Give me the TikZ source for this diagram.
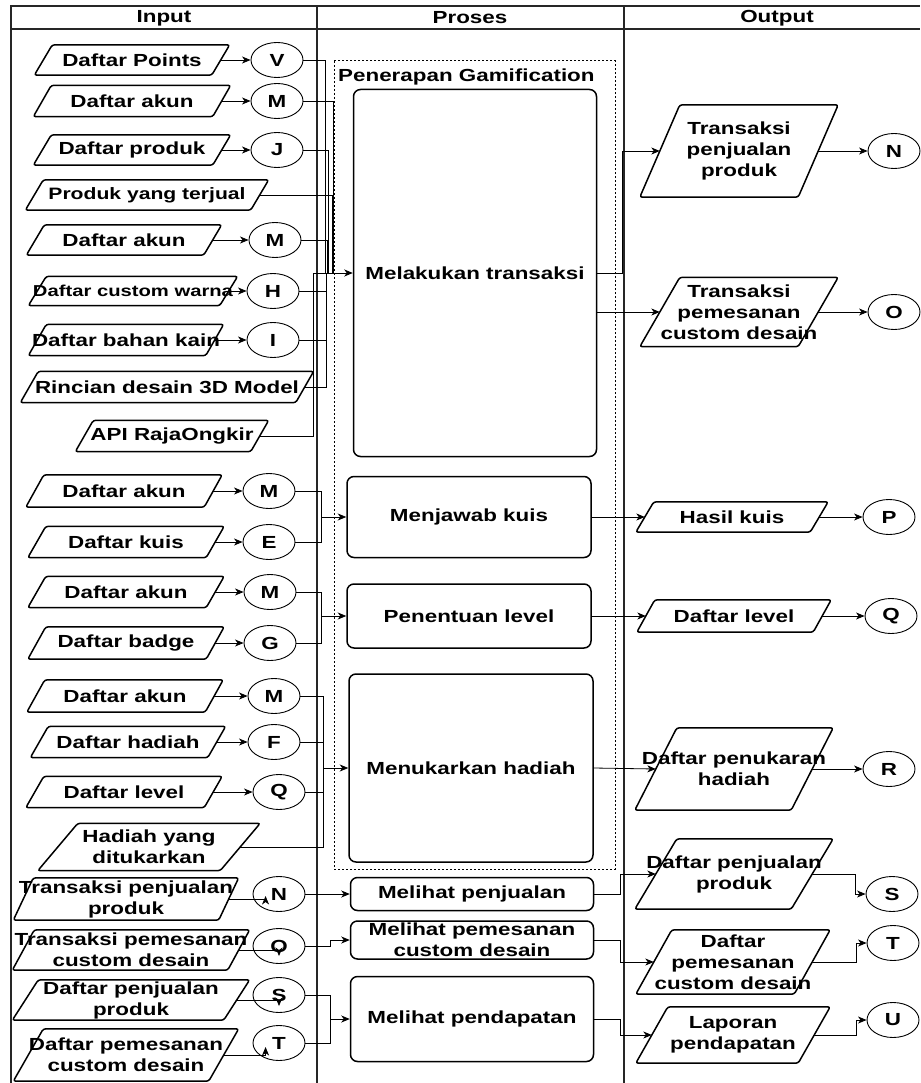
\documentclass[tikz,border=0pt]{standalone}
\usepackage{fontspec}
\setmainfont{Liberation Sans}[FakeStretch=1.28]
\usetikzlibrary{shapes.geometric,arrows.meta,calc}
\newcommand\paral[2]{\draw[iop] ([xshift=-#2pt]#1.south west) -- ([xshift=#2pt]#1.north west) -- ([xshift=#2pt]#1.north east) -- ([xshift=-#2pt]#1.south east) -- cycle;}
\begin{document}
\begin{tikzpicture}[x=1pt,y=-1pt,
  txt/.style={font=\bfseries\fontsize{17.5}{21}\selectfont, align=center, inner sep=0pt},
  stxt/.style={font=\bfseries\fontsize{15.8}{19}\selectfont, align=center, inner sep=0pt},
  mtxt/.style={font=\bfseries\fontsize{16.5}{20}\selectfont, align=center, inner sep=0pt},
  pnode/.style={draw=none, inner sep=0pt},
  iop/.style={line width=1.5pt, rounded corners=2.5pt},
  circ/.style={ellipse, draw, line width=0.9pt, minimum width=52pt, minimum height=35pt,
    inner sep=0pt, font=\bfseries\fontsize{17.5}{21}\selectfont},
  proc/.style={draw, line width=1.5pt, rounded corners=7pt, inner sep=0pt, align=center,
    font=\bfseries\fontsize{17.5}{21}\selectfont},
  con/.style={line width=0.8pt},
  arr/.style={con, -{Stealth[length=8.5pt,width=7pt,inset=2.5pt]}},
  tbl/.style={line width=1.2pt, black!85},
  hdr/.style={font=\bfseries\fontsize{17.5}{21}\selectfont, inner sep=0pt}
]
\useasboundingbox (0,0) rectangle (920,1083);
\fill[white] (0,0) rectangle (920,1083);

% table
\draw[tbl] (10,6) -- (920,6);
\draw[tbl] (10,29) -- (920,29);
\draw[tbl] (11,6) -- (11,1083);
\draw[tbl] (317,6) -- (317,1083);
\draw[tbl] (624,6) -- (624,1083);
\node[hdr] (hIn) at (164,18) {Input};
\node[hdr] (hPr) at (470,18) {Proses};
\node[hdr] (hOut) at (777,18) {Output};

% group
\draw[line width=1pt, dash pattern=on 2pt off 2pt] (334,61) rectangle (615,869);
\node[txt, anchor=west] (pg) at (338,77) {Penerapan Gamification};

% processes
\node[proc, minimum width=243pt, minimum height=367pt] (mt) at (475,273) {Melakukan transaksi};
\node[proc, minimum width=244pt, minimum height=81pt] (mk) at (469,517) {Menjawab kuis};
\node[proc, minimum width=244pt, minimum height=64pt] (pl) at (469,616) {Penentuan level};
\node[proc, minimum width=244pt, minimum height=188pt] (mh) at (471,768) {Menukarkan hadiah};
\node[proc, minimum width=243pt, minimum height=33pt] (mp) at (472,894) {Melihat penjualan};
\node[proc, minimum width=243pt, minimum height=38pt] (mpc) at (472,940) {Melihat pemesanan\\custom desain};
\node[proc, minimum width=243pt, minimum height=85pt] (mpd) at (472,1019) {Melihat pendapatan};

% inputs for Melakukan transaksi
\node[pnode, minimum width=177pt, minimum height=30pt, label={[txt]center:Daftar Points}] (i1) at (132,60) {};
\paral{i1}{9}
\node[circ] (cV) at (277,60) {V};
\node[pnode, minimum width=179pt, minimum height=31pt, label={[txt]center:Daftar akun}] (i2) at (132,101) {};
\paral{i2}{9}
\node[circ] (cM1) at (277,101) {M};
\node[pnode, minimum width=179pt, minimum height=30pt, label={[txt]center:Daftar produk}] (i3) at (132,150) {};
\paral{i3}{9}
\node[circ] (cJ) at (277,150) {J};
\node[pnode, minimum width=225pt, minimum height=30pt, label={[mtxt]center:Produk yang terjual}] (i4) at (147,195) {};
\paral{i4}{9}
\node[pnode, minimum width=177pt, minimum height=30pt, label={[txt]center:Daftar akun}] (i5) at (124,240) {};
\paral{i5}{9}
\node[circ] (cM2) at (275,240) {M};
\node[pnode, minimum width=191pt, minimum height=29pt, label={[stxt]center:Daftar custom warna}] (i6) at (133,291) {};
\paral{i6}{9}
\node[circ] (cH) at (273,291) {H};
\node[pnode, minimum width=177pt, minimum height=31pt, label={[txt]center:Daftar bahan kain}] (i7) at (126,340) {};
\paral{i7}{9}
\node[circ] (cI) at (273,340) {I};
\node[pnode, minimum width=275pt, minimum height=31pt, label={[txt]center:Rincian desain 3D Model}] (i8) at (167,387) {};
\paral{i8}{9}
\node[pnode, minimum width=175pt, minimum height=31pt, label={[txt]center:API RajaOngkir}] (i9) at (172,436) {};
\paral{i9}{9}

\draw[arr] (i1.east) -- (cV.west);
\draw[arr] (i2.east) -- (cM1.west);
\draw[arr] (i3.east) -- (cJ.west);
\draw[arr] (i5.east) -- (cM2.west);
\draw[arr] (i6.east) -- (cH.west);
\draw[arr] (i7.east) -- (cI.west);

\coordinate (jmt) at (313,273);
\coordinate (jV) at (325,273);
\coordinate (jM1) at (333,273);
\coordinate (jJ) at (328,273);
\coordinate (jP) at (332,273);
\coordinate (jM2) at (327,273);
\coordinate (jH) at (326,273);
\draw[con] (cV.east) -| (jV);
\draw[con] (cM1.east) -| (jM1);
\draw[con] (cJ.east) -| (jJ);
\draw[con] (i4.east) -| (jP);
\draw[con] (cM2.east) -| (jM2);
\draw[con] (cH.east) -| (jH);
\draw[con] (cI.east) -| (jH);
\draw[con] (i8.east) -| (jH);
\draw[con] (i9.east) -| (jmt);
\draw[arr] (jmt) -- (mt.west);

% outputs of Melakukan transaksi
\node[pnode, minimum width=158pt, minimum height=92pt, label={[txt]center:{Transaksi\\penjualan\\produk}}] (tpp) at (739,151) {};
\paral{tpp}{20}
\node[circ] (cN) at (894,151) {N};
\node[pnode, minimum width=158pt, minimum height=69pt, label={[txt]center:{Transaksi\\pemesanan\\custom desain}}] (tpc) at (739,312) {};
\paral{tpc}{20}
\node[circ] (cO) at (894,312) {O};
\coordinate (jo1) at (622,273);
\draw[arr] (mt.east) -- (jo1) |- (tpp.west);
\draw[arr] (mt.east |- tpc.west) -- (tpc.west);
\draw[arr] (tpp.east) -- (cN.west);
\draw[arr] (tpc.east) -- (cO.west);

% Menjawab kuis
\node[pnode, minimum width=178pt, minimum height=32pt, label={[txt]center:Daftar akun}] (m1) at (124,491) {};
\paral{m1}{9}
\node[circ] (cM3) at (269,491) {M};
\node[pnode, minimum width=178pt, minimum height=31pt, label={[txt]center:Daftar kuis}] (m2) at (126,542) {};
\paral{m2}{9}
\node[circ] (cE) at (269,542) {E};
\draw[arr] (m1.east) -- (cM3.west);
\draw[arr] (m2.east) -- (cE.west);
\coordinate (jmk) at (321,517);
\draw[con] (cM3.east) -| (jmk);
\draw[con] (cE.east) -| (jmk);
\draw[arr] (jmk) -- (mk.west);
\node[pnode, minimum width=174pt, minimum height=30pt, label={[txt]center:Hasil kuis}] (hk) at (732,517) {};
\paral{hk}{9}
\node[circ] (cP) at (889,517) {P};
\draw[arr] (mk.east) -- (hk.west);
\draw[arr] (hk.east) -- (cP.west);

% Penentuan level
\node[pnode, minimum width=178pt, minimum height=31pt, label={[txt]center:Daftar akun}] (m3) at (126,592) {};
\paral{m3}{9}
\node[circ] (cM4) at (270,592) {M};
\node[pnode, minimum width=178pt, minimum height=32pt, label={[txt]center:Daftar badge}] (m4) at (126,643) {};
\paral{m4}{9}
\node[circ] (cG) at (270,643) {G};
\draw[arr] (m3.east) -- (cM4.west);
\draw[arr] (m4.east) -- (cG.west);
\coordinate (jpl) at (321,616);
\draw[con] (cM4.east) -| (jpl);
\draw[con] (cG.east) -| (jpl);
\draw[arr] (jpl) -- (pl.west);
\node[pnode, minimum width=176pt, minimum height=32pt, label={[txt]center:Daftar level}] (dl) at (734,616) {};
\paral{dl}{9}
\node[circ] (cQ2) at (891,616) {Q};
\draw[arr] (pl.east) -- (dl.west);
\draw[arr] (dl.east) -- (cQ2.west);

% Menukarkan hadiah
\node[pnode, minimum width=178pt, minimum height=32pt, label={[txt]center:Daftar akun}] (m5) at (125,696) {};
\paral{m5}{9}
\node[circ] (cM5) at (274,696) {M};
\node[pnode, minimum width=177pt, minimum height=31pt, label={[txt]center:Daftar hadiah}] (m6) at (128,742) {};
\paral{m6}{9}
\node[circ] (cF) at (274,742) {F};
\node[pnode, minimum width=178pt, minimum height=31pt, label={[txt]center:Daftar level}] (m7) at (124,792) {};
\paral{m7}{9}
\node[circ] (cQ) at (279,792) {Q};
\node[pnode, minimum width=182pt, minimum height=47pt, label={[txt]center:{Hadiah yang\\ditukarkan}}] (m8) at (149,847) {};
\paral{m8}{20}
\draw[arr] (m5.east) -- (cM5.west);
\draw[arr] (m6.east) -- (cF.west);
\draw[arr] (m7.east) -- (cQ.west);
\coordinate (jmh) at (323,768);
\draw[con] (cM5.east) -| (jmh);
\draw[con] (cF.east) -| (jmh);
\draw[con] (cQ.east) -| (jmh);
\draw[con] (m8.east) -| (jmh);
\draw[arr] (jmh) -- (mh.west);
\node[pnode, minimum width=156pt, minimum height=82pt, label={[txt]center:{Daftar penukaran\\hadiah}}] (dph) at (734,769) {};
\paral{dph}{21}
\node[circ] (cR) at (889,769) {R};
\draw[arr] (mh.east) -- (dph.west);
\draw[arr] (dph.east) -- (cR.west);

% bottom inputs
\node[pnode, minimum width=205pt, minimum height=42pt, label={[txt]center:{Transaksi penjualan\\produk}}] (b1) at (126,899) {};
\paral{b1}{10}
\node[circ] (cN2) at (279,894) {N};
\node[pnode, minimum width=215pt, minimum height=40pt, label={[txt]center:{Transaksi pemesanan\\custom desain}}] (b2) at (131,950) {};
\paral{b2}{11}
\node[circ] (cO2) at (279,946) {O};
\node[pnode, minimum width=211pt, minimum height=40pt, label={[txt]center:{Daftar penjualan\\produk}}] (b3) at (131,1000) {};
\paral{b3}{13}
\node[circ] (cS2) at (279,995) {S};
\node[pnode, minimum width=195pt, minimum height=52pt, label={[txt]center:{Daftar pemesanan\\custom desain}}] (b4) at (126,1055) {};
\paral{b4}{15}
\node[circ] (cT2) at (279,1043) {T};
\draw[arr] (b1.east) -| ([xshift=13pt,yshift=-2pt]cN2.west);
\draw[arr] (b2.east) -| ([yshift=-10pt]cO2.center);
\draw[arr] (b3.east) -| ([yshift=-11pt]cS2.center);
\draw[arr] (b4.east) -| ([xshift=13pt,yshift=-4pt]cT2.west);

\draw[arr] (cN2.east) -- (mp.west);
\coordinate (jo2) at (330,940);
\draw[arr] (cO2.east) -| (jo2) -- (mpc.west);
\coordinate (jpd) at (330,1019);
\draw[con] (cS2.east) -| (jpd);
\draw[con] (cT2.east) -| (jpd);
\draw[arr] (jpd) -- (mpd.west);

% bottom outputs
\node[pnode, minimum width=156pt, minimum height=70pt, label={[txt]center:{Daftar penjualan\\produk}}] (dpp) at (734,874) {};
\paral{dpp}{21}
\node[circ] (cS) at (892,894) {S};
\node[pnode, minimum width=158pt, minimum height=64pt, label={[txt]center:{Daftar\\pemesanan\\custom desain}}] (dpc) at (733,962) {};
\paral{dpc}{18}
\node[circ] (cT) at (893,943) {T};
\node[pnode, minimum width=162pt, minimum height=56pt, label={[txt]center:{Laporan\\pendapatan}}] (lp) at (733,1035) {};
\paral{lp}{16}
\node[circ] (cU) at (893,1020) {U};
\coordinate (jd1) at (620,874);
\coordinate (jd2) at (620,962);
\coordinate (jd3) at (620,1035);
\draw[arr] (mp.east) -| (jd1) -- (dpp.west);
\draw[arr] (mpc.east) -| (jd2) -- (dpc.west);
\draw[arr] (mpd.east) -| (jd3) -- (lp.west);
\draw[arr] (dpp.east) -| ([xshift=-10pt]cS.west) -- (cS.west);
\draw[arr] (dpc.east) -| ([xshift=-10pt]cT.west) -- (cT.west);
\draw[arr] (lp.east) -| ([xshift=-10pt]cU.west) -- (cU.west);
\end{tikzpicture}
\end{document}
